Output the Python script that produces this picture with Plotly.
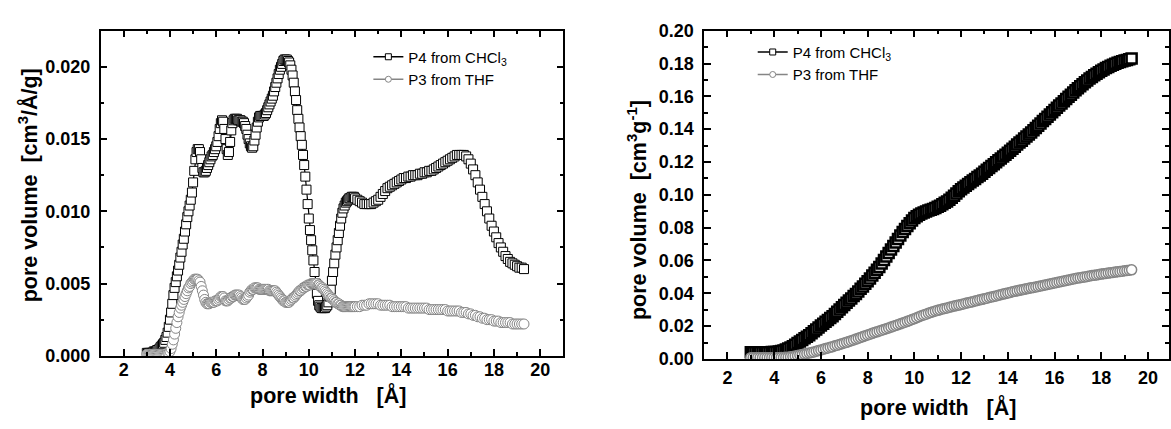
import plotly.graph_objects as go

# ---------------- data ----------------
# pore width grid of the pore size distribution (left panel)
X_PSD = [
    3.00, 3.05, 3.10, 3.15, 3.20, 3.25, 3.30, 3.35, 3.40, 3.45, 3.50, 3.55, 3.60, 3.65, 3.70, 3.75, 3.80, 3.85, 3.90, 3.95,
    4.00, 4.05, 4.10, 4.15, 4.20, 4.25, 4.30, 4.35, 4.40, 4.45, 4.50, 4.55, 4.60, 4.65, 4.70, 4.75, 4.80, 4.85, 4.90, 4.95,
    5.00, 5.05, 5.10, 5.15, 5.20, 5.25, 5.30, 5.35, 5.40, 5.45, 5.50, 5.55, 5.60, 5.65, 5.70, 5.75, 5.80, 5.85, 5.90, 5.95,
    6.00, 6.05, 6.10, 6.15, 6.20, 6.25, 6.30, 6.35, 6.40, 6.45, 6.50, 6.55, 6.60, 6.65, 6.70, 6.75, 6.80, 6.85, 6.90, 6.95,
    7.00, 7.05, 7.10, 7.15, 7.20, 7.25, 7.30, 7.35, 7.40, 7.45, 7.50, 7.55, 7.60, 7.65, 7.70, 7.75, 7.80, 7.85, 7.90, 7.95,
    8.00, 8.05, 8.10, 8.15, 8.20, 8.25, 8.30, 8.35, 8.40, 8.45, 8.50, 8.55, 8.60, 8.65, 8.70, 8.75, 8.80, 8.85, 8.90, 8.95,
    9.00, 9.05, 9.10, 9.15, 9.20, 9.25, 9.30, 9.35, 9.40, 9.45, 9.50, 9.55, 9.60, 9.65, 9.70, 9.75, 9.80, 9.85, 9.90, 9.95,
    10.00, 10.05, 10.10, 10.15, 10.20, 10.25, 10.30, 10.35, 10.40, 10.45, 10.50, 10.55, 10.60, 10.65, 10.70, 10.75, 10.80, 10.85, 10.90, 10.95,
    11.00, 11.05, 11.10, 11.15, 11.20, 11.25, 11.30, 11.35, 11.40, 11.45, 11.50, 11.55, 11.60, 11.65, 11.70, 11.75, 11.80, 11.85, 11.90, 11.95,
    12.00,
    12.1, 12.2, 12.3, 12.4, 12.5, 12.6, 12.7, 12.8, 12.9, 13.0,
    13.1, 13.2, 13.3, 13.4, 13.5, 13.6, 13.7, 13.8, 13.9, 14.0,
    14.1, 14.2, 14.3, 14.4, 14.5, 14.6, 14.7, 14.8, 14.9, 15.0,
    15.1, 15.2, 15.3, 15.4, 15.5, 15.6, 15.7, 15.8, 15.9, 16.0,
    16.1, 16.2, 16.3, 16.4, 16.5, 16.6, 16.7, 16.8, 16.9, 17.0,
    17.1, 17.2, 17.3, 17.4, 17.5, 17.6, 17.7, 17.8, 17.9, 18.0,
    18.1, 18.2, 18.3, 18.4, 18.5, 18.6, 18.7, 18.8, 18.9, 19.0,
    19.1, 19.2, 19.3,
]

# P4 from CHCl3, differential pore volume [cm3/A/g]
P4_PSD = [
    0.0002, 0.0002, 0.0002, 0.0002, 0.0002, 0.0002, 0.0003, 0.0003, 0.0003, 0.0004, 0.0004, 0.0005, 0.0006, 0.0007, 0.0008, 0.0009, 0.0011, 0.0013, 0.0016, 0.0020,
    0.0025, 0.0030, 0.0036, 0.0042, 0.0047, 0.0051, 0.0055, 0.0059, 0.0063, 0.0068, 0.0072, 0.0077, 0.0081, 0.0086, 0.0091, 0.0096, 0.0100, 0.0104, 0.0108, 0.0113,
    0.0120, 0.0128, 0.0136, 0.0141, 0.0143, 0.0143, 0.0141, 0.0136, 0.0130, 0.0127, 0.0127, 0.0128, 0.0130, 0.0132, 0.0134, 0.0136, 0.0138, 0.0139, 0.0141, 0.0143,
    0.0145, 0.0148, 0.0152, 0.0157, 0.0161, 0.0163, 0.0162, 0.0157, 0.0150, 0.0143, 0.0139, 0.0141, 0.0148, 0.0156, 0.0161, 0.0163, 0.0164, 0.0164, 0.0164, 0.0163,
    0.0163, 0.0163, 0.0162, 0.0162, 0.0161, 0.0159, 0.0157, 0.0153, 0.0150, 0.0147, 0.0145, 0.0144, 0.0145, 0.0149, 0.0153, 0.0158, 0.0162, 0.0165, 0.0166, 0.0166,
    0.0166, 0.0166, 0.0167, 0.0168, 0.0170, 0.0172, 0.0174, 0.0176, 0.0178, 0.0180, 0.0183, 0.0186, 0.0189, 0.0192, 0.0195, 0.0198, 0.0200, 0.0202, 0.0204, 0.0205,
    0.0205, 0.0205, 0.0204, 0.0203, 0.0201, 0.0198, 0.0194, 0.0189, 0.0183, 0.0177, 0.0170, 0.0164, 0.0158, 0.0152, 0.0146, 0.0139, 0.0132, 0.0124, 0.0115, 0.0105,
    0.0095, 0.0087, 0.0080, 0.0073, 0.0066, 0.0058, 0.0050, 0.0043, 0.0038, 0.0035, 0.0034, 0.0033, 0.0033, 0.0033, 0.0033, 0.0034, 0.0035, 0.0037, 0.0041, 0.0046,
    0.0052, 0.0058, 0.0064, 0.0070, 0.0075, 0.0080, 0.0085, 0.0090, 0.0095, 0.0099, 0.0102, 0.0104, 0.0106, 0.0107, 0.0108, 0.0109, 0.0109, 0.0110, 0.0110, 0.0110,
    0.0109,
    0.0108, 0.0107, 0.0106, 0.0105, 0.0105, 0.0105, 0.0105, 0.0106, 0.0107, 0.0108,
    0.0110, 0.0112, 0.0114, 0.0116, 0.0117, 0.0118, 0.0119, 0.0120, 0.0121, 0.0122,
    0.0123, 0.0123, 0.0124, 0.0124, 0.0125, 0.0125, 0.0125, 0.0126, 0.0126, 0.0127,
    0.0127, 0.0128, 0.0128, 0.0129, 0.0130, 0.0131, 0.0132, 0.0133, 0.0134, 0.0135,
    0.0136, 0.0137, 0.0138, 0.0139, 0.0139, 0.0139, 0.0139, 0.0138, 0.0136, 0.0133,
    0.0129, 0.0125, 0.0120, 0.0115, 0.0110, 0.0105, 0.0100, 0.0095, 0.0090, 0.0086,
    0.0082, 0.0078, 0.0075, 0.0072, 0.0069, 0.0067, 0.0065, 0.0064, 0.0063, 0.0062,
    0.0061, 0.0061, 0.0060,
]

# P3 from THF, differential pore volume [cm3/A/g]
P3_PSD = [
    0.0001, 0.0001, 0.0001, 0.0001, 0.0001, 0.0001, 0.0001, 0.0001, 0.0001, 0.0001, 0.0001, 0.0001, 0.0001, 0.0001, 0.0001, 0.0001, 0.0001, 0.0001, 0.0002, 0.0002,
    0.0003, 0.0005, 0.0008, 0.0011, 0.0015, 0.0019, 0.0023, 0.0027, 0.0030, 0.0033, 0.0035, 0.0037, 0.0039, 0.0041, 0.0043, 0.0045, 0.0047, 0.0048, 0.0050, 0.0051,
    0.0052, 0.0053, 0.0053, 0.0053, 0.0053, 0.0052, 0.0051, 0.0048, 0.0045, 0.0042, 0.0039, 0.0037, 0.0036, 0.0036, 0.0036, 0.0037, 0.0037, 0.0037, 0.0037, 0.0038,
    0.0038, 0.0038, 0.0039, 0.0040, 0.0041, 0.0041, 0.0041, 0.0040, 0.0038, 0.0038, 0.0038, 0.0039, 0.0040, 0.0040, 0.0041, 0.0041, 0.0042, 0.0042, 0.0042, 0.0042,
    0.0042, 0.0041, 0.0040, 0.0039, 0.0039, 0.0039, 0.0040, 0.0041, 0.0042, 0.0044, 0.0045, 0.0046, 0.0046, 0.0047, 0.0047, 0.0047, 0.0047, 0.0046, 0.0046, 0.0046,
    0.0046, 0.0046, 0.0046, 0.0046, 0.0046, 0.0046, 0.0045, 0.0045, 0.0045, 0.0045, 0.0045, 0.0045, 0.0044, 0.0043, 0.0042, 0.0041, 0.0040, 0.0039, 0.0038, 0.0038,
    0.0037, 0.0037, 0.0037, 0.0037, 0.0038, 0.0039, 0.0040, 0.0040, 0.0041, 0.0042, 0.0043, 0.0044, 0.0045, 0.0045, 0.0046, 0.0047, 0.0047, 0.0048, 0.0048, 0.0049,
    0.0049, 0.0049, 0.0050, 0.0050, 0.0050, 0.0050, 0.0050, 0.0050, 0.0049, 0.0049, 0.0048, 0.0047, 0.0047, 0.0046, 0.0045, 0.0044, 0.0043, 0.0042, 0.0041, 0.0040,
    0.0040, 0.0039, 0.0038, 0.0037, 0.0037, 0.0036, 0.0036, 0.0035, 0.0035, 0.0034, 0.0034, 0.0034, 0.0034, 0.0034, 0.0034, 0.0034, 0.0034, 0.0034, 0.0034, 0.0034,
    0.0034,
    0.0034, 0.0034, 0.0035, 0.0035, 0.0035, 0.0036, 0.0036, 0.0036, 0.0036, 0.0036,
    0.0035, 0.0035, 0.0035, 0.0035, 0.0035, 0.0034, 0.0034, 0.0034, 0.0034, 0.0034,
    0.0034, 0.0034, 0.0033, 0.0033, 0.0033, 0.0033, 0.0033, 0.0033, 0.0033, 0.0033,
    0.0033, 0.0032, 0.0032, 0.0032, 0.0032, 0.0032, 0.0032, 0.0032, 0.0032, 0.0031,
    0.0031, 0.0031, 0.0031, 0.0031, 0.0031, 0.0030, 0.0030, 0.0030, 0.0029, 0.0029,
    0.0028, 0.0028, 0.0027, 0.0027, 0.0026, 0.0026, 0.0025, 0.0025, 0.0025, 0.0024,
    0.0024, 0.0024, 0.0023, 0.0023, 0.0023, 0.0023, 0.0023, 0.0022, 0.0022, 0.0022,
    0.0022, 0.0022, 0.0022,
]

# pore width grid of the cumulative pore volume (right panel)
X_CUM = [
    3.0, 3.1, 3.2, 3.3, 3.4, 3.5, 3.6, 3.7, 3.8, 3.9,
    4.0, 4.1, 4.2, 4.3, 4.4, 4.5, 4.6, 4.7, 4.8, 4.9,
    5.0, 5.1, 5.2, 5.3, 5.4, 5.5, 5.6, 5.7, 5.8, 5.9,
    6.0, 6.1, 6.2, 6.3, 6.4, 6.5, 6.6, 6.7, 6.8, 6.9,
    7.0, 7.1, 7.2, 7.3, 7.4, 7.5, 7.6, 7.7, 7.8, 7.9,
    8.0, 8.1, 8.2, 8.3, 8.4, 8.5, 8.6, 8.7, 8.8, 8.9,
    9.0, 9.1, 9.2, 9.3, 9.4, 9.5, 9.6, 9.7, 9.8, 9.9,
    10.0, 10.1, 10.2, 10.3, 10.4, 10.5, 10.6, 10.7, 10.8, 10.9,
    11.0, 11.1, 11.2, 11.3, 11.4, 11.5, 11.6, 11.7, 11.8, 11.9,
    12.0, 12.1, 12.2, 12.3, 12.4, 12.5, 12.6, 12.7, 12.8, 12.9,
    13.0, 13.1, 13.2, 13.3, 13.4, 13.5, 13.6, 13.7, 13.8, 13.9,
    14.0, 14.1, 14.2, 14.3, 14.4, 14.5, 14.6, 14.7, 14.8, 14.9,
    15.0, 15.1, 15.2, 15.3, 15.4, 15.5, 15.6, 15.7, 15.8, 15.9,
    16.0, 16.1, 16.2, 16.3, 16.4, 16.5, 16.6, 16.7, 16.8, 16.9,
    17.0, 17.1, 17.2, 17.3, 17.4, 17.5, 17.6, 17.7, 17.8, 17.9,
    18.0, 18.1, 18.2, 18.3, 18.4, 18.5, 18.6, 18.7, 18.8, 18.9,
    19.0, 19.1, 19.2, 19.3,
]

# P4 from CHCl3, cumulative pore volume [cm3/g]
P4_CUM = [
    0.0040, 0.0040, 0.0040, 0.0040, 0.0040, 0.0040, 0.0041, 0.0041, 0.0041, 0.0042,
    0.0042, 0.0043, 0.0045, 0.0048, 0.0052, 0.0057, 0.0063, 0.0070, 0.0078, 0.0087,
    0.0097, 0.0106, 0.0116, 0.0126, 0.0135, 0.0145, 0.0157, 0.0168, 0.0180, 0.0191,
    0.0203, 0.0214, 0.0226, 0.0237, 0.0249, 0.0260, 0.0274, 0.0288, 0.0301, 0.0315,
    0.0329, 0.0342, 0.0356, 0.0369, 0.0383, 0.0396, 0.0411, 0.0427, 0.0442, 0.0458,
    0.0473, 0.0490, 0.0508, 0.0525, 0.0543, 0.0560, 0.0581, 0.0603, 0.0624, 0.0646,
    0.0667, 0.0688, 0.0710, 0.0731, 0.0752, 0.0773, 0.0792, 0.0810, 0.0827, 0.0844,
    0.0858, 0.0869, 0.0878, 0.0886, 0.0893, 0.0899, 0.0904, 0.0909, 0.0914, 0.0920,
    0.0927, 0.0934, 0.0942, 0.0951, 0.0960, 0.0970, 0.0982, 0.0995, 0.1008, 0.1021,
    0.1034, 0.1045, 0.1055, 0.1066, 0.1076, 0.1087, 0.1097, 0.1108, 0.1118, 0.1129,
    0.1140, 0.1152, 0.1163, 0.1175, 0.1186, 0.1198, 0.1210, 0.1221, 0.1233, 0.1244,
    0.1256, 0.1268, 0.1281, 0.1293, 0.1306, 0.1318, 0.1330, 0.1343, 0.1355, 0.1368,
    0.1380, 0.1394, 0.1407, 0.1421, 0.1435, 0.1449, 0.1462, 0.1476, 0.1490, 0.1503,
    0.1517, 0.1530, 0.1544, 0.1557, 0.1570, 0.1584, 0.1597, 0.1610, 0.1623, 0.1637,
    0.1650, 0.1662, 0.1674, 0.1686, 0.1697, 0.1708, 0.1718, 0.1728, 0.1738, 0.1747,
    0.1756, 0.1764, 0.1772, 0.1779, 0.1786, 0.1792, 0.1798, 0.1804, 0.1809, 0.1814,
    0.1818, 0.1822, 0.1826, 0.1830,
]

# P3 from THF, cumulative pore volume [cm3/g]
P3_CUM = [
    0.0008, 0.0008, 0.0008, 0.0008, 0.0008, 0.0008, 0.0008, 0.0008, 0.0008, 0.0008,
    0.0008, 0.0008, 0.0008, 0.0009, 0.0009, 0.0010, 0.0011, 0.0013, 0.0015, 0.0018,
    0.0021, 0.0024, 0.0027, 0.0030, 0.0033, 0.0036, 0.0039, 0.0043, 0.0047, 0.0051,
    0.0055, 0.0059, 0.0063, 0.0067, 0.0071, 0.0075, 0.0080, 0.0084, 0.0088, 0.0093,
    0.0097, 0.0101, 0.0106, 0.0111, 0.0116, 0.0121, 0.0126, 0.0131, 0.0136, 0.0141,
    0.0146, 0.0151, 0.0156, 0.0161, 0.0165, 0.0170, 0.0175, 0.0180, 0.0184, 0.0189,
    0.0194, 0.0199, 0.0204, 0.0209, 0.0214, 0.0219, 0.0224, 0.0229, 0.0234, 0.0240,
    0.0245, 0.0251, 0.0257, 0.0263, 0.0268, 0.0273, 0.0278, 0.0283, 0.0288, 0.0292,
    0.0296, 0.0300, 0.0304, 0.0308, 0.0311, 0.0315, 0.0318, 0.0322, 0.0325, 0.0328,
    0.0332, 0.0335, 0.0339, 0.0342, 0.0346, 0.0349, 0.0353, 0.0356, 0.0360, 0.0363,
    0.0367, 0.0370, 0.0374, 0.0377, 0.0381, 0.0384, 0.0388, 0.0391, 0.0395, 0.0398,
    0.0402, 0.0405, 0.0409, 0.0412, 0.0415, 0.0418, 0.0421, 0.0424, 0.0427, 0.0430,
    0.0433, 0.0436, 0.0439, 0.0442, 0.0445, 0.0448, 0.0451, 0.0454, 0.0457, 0.0460,
    0.0463, 0.0466, 0.0469, 0.0472, 0.0475, 0.0478, 0.0481, 0.0484, 0.0487, 0.0490,
    0.0493, 0.0495, 0.0498, 0.0500, 0.0503, 0.0505, 0.0508, 0.0510, 0.0512, 0.0515,
    0.0517, 0.0519, 0.0521, 0.0523, 0.0525, 0.0527, 0.0529, 0.0531, 0.0533, 0.0535,
    0.0537, 0.0539, 0.0541, 0.0543,
]

SERIES_NAMES = ["P4 from CHCl<sub>3</sub>", "P3 from THF"]
X_TITLE = "pore width\u00a0\u00a0\u00a0[Å]"
Y_TITLE_LEFT = "pore volume\u00a0\u00a0[cm<sup>3</sup>/Å/g]"
Y_TITLE_RIGHT = "pore volume\u00a0\u00a0[cm<sup>3</sup>g<sup>-1</sup>]"

# ---------------- styling ----------------
W, H = 1171, 429
FONT = "Liberation Sans, Arial, Helvetica, sans-serif"
BLACK = "#000000"
GRAY = "#858585"

fig = go.Figure()

def add_series(x, y, xa, ya, symbol, color, size, lw):
    fig.add_trace(go.Scatter(
        x=x, y=y, xaxis=xa, yaxis=ya, mode="lines+markers",
        line=dict(color=color, width=1.2),
        marker=dict(symbol=symbol, size=size, color="white",
                    line=dict(color=color, width=lw)),
        showlegend=False, hoverinfo="skip"))

add_series(X_PSD, P4_PSD, "x", "y", "square", BLACK, 9, 1)
add_series(X_PSD, P3_PSD, "x", "y", "circle", GRAY, 10, 1)
add_series(X_CUM, P4_CUM, "x2", "y2", "square", BLACK, 10, 2.5)
add_series(X_CUM, P3_CUM, "x2", "y2", "circle", GRAY, 10, 1.5)

# legend entries (small symbols as in the original)
for lg, xa, ya in (("legend", "x", "y"), ("legend2", "x2", "y2")):
    for name, sym, col in zip(SERIES_NAMES, ["square", "circle"], [BLACK, GRAY]):
        fig.add_trace(go.Scatter(
            x=[None], y=[None], xaxis=xa, yaxis=ya, mode="lines+markers", name=name,
            line=dict(color=col, width=1.5),
            marker=dict(symbol=sym, size=6, color="white", line=dict(color=col, width=1)),
            legend=lg, showlegend=True))

def px_x(p):
    return p / W

def px_y(p):
    return (H - p) / H

tickfont = dict(family=FONT, size=18, color=BLACK, weight="bold")

def xaxis_cfg(domain, rng, standoff):
    return dict(domain=domain, range=rng, showgrid=False, zeroline=False,
                showline=True, linecolor=BLACK, linewidth=1.5, mirror="ticks",
                ticks="inside", ticklen=7, tickwidth=1.5, tickcolor=BLACK,
                tick0=0, dtick=2, tickfont=tickfont, ticklabelstandoff=standoff,
                minor=dict(ticks="inside", ticklen=4, tickwidth=1.5, tickcolor=BLACK, dtick=1))

def yaxis_cfg(domain, rng, dtick, mdtick, fmt, anchor):
    return dict(domain=domain, range=rng, showgrid=False, zeroline=False, anchor=anchor,
                showline=True, linecolor=BLACK, linewidth=1.5, mirror="ticks",
                ticks="inside", ticklen=7, tickwidth=1.5, tickcolor=BLACK,
                tick0=0, dtick=dtick, tickformat=fmt, tickfont=tickfont, ticklabelstandoff=5,
                minor=dict(ticks="inside", ticklen=4, tickwidth=1.5, tickcolor=BLACK, dtick=mdtick))

fig.update_layout(
    width=W, height=H, autosize=False,
    margin=dict(l=0, r=0, t=0, b=0, pad=0),
    paper_bgcolor="white", plot_bgcolor="white",
    font=dict(family=FONT, color=BLACK),
    xaxis=dict(xaxis_cfg([px_x(100.7), px_x(564.3)], [1, 21], -3), anchor="y"),
    yaxis=yaxis_cfg([px_y(362.7), px_y(21.7)], [0, 0.0225], 0.005, 0.0025, ".3f", "x"),
    xaxis2=dict(xaxis_cfg([px_x(705.3), 1.0], [1, 20.9], 2), anchor="y2"),
    yaxis2=yaxis_cfg([px_y(366), px_y(21.7)], [0, 0.2], 0.02, 0.01, ".2f", "x2"),
    legend=dict(x=px_x(369), y=px_y(32), xanchor="left", yanchor="top",
                bgcolor="rgba(0,0,0,0)", borderwidth=0,
                font=dict(family=FONT, size=15, color=BLACK), tracegroupgap=0),
    legend2=dict(x=px_x(754), y=px_y(27), xanchor="left", yanchor="top",
                 bgcolor="rgba(0,0,0,0)", borderwidth=0,
                 font=dict(family=FONT, size=15, color=BLACK), tracegroupgap=0),
)

title_font = dict(family=FONT, size=21.5, color=BLACK, weight="bold")
annots = [
    dict(text=X_TITLE, x=px_x(329), y=px_y(404), textangle=0),
    dict(text=X_TITLE, x=px_x(940), y=px_y(416), textangle=0),
    dict(text=Y_TITLE_LEFT, x=px_x(28), y=px_y(184), textangle=-90),
    dict(text=Y_TITLE_RIGHT, x=px_x(638), y=px_y(210), textangle=-90),
]
for a in annots:
    fig.add_annotation(xref="paper", yref="paper", showarrow=False,
                       xanchor="center", yanchor="middle", font=title_font, **a)

# the page body has a default 8 px margin; remove it so the figure fills the window exactly
fig.write_html("out.html",
               config={"displayModeBar": False},
               post_script="document.body.style.margin='0';document.body.style.overflow='hidden';")
